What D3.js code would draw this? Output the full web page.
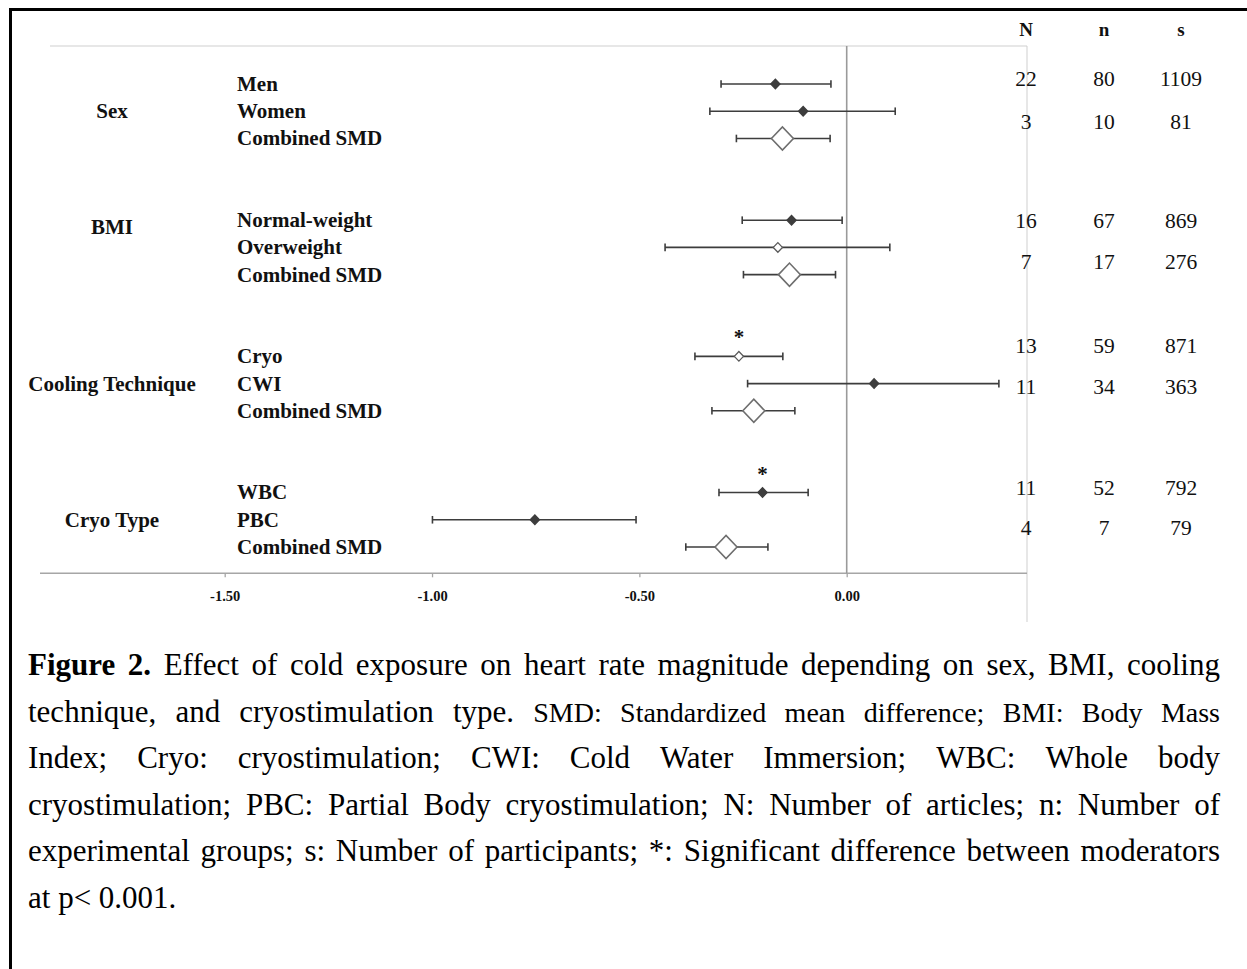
<!DOCTYPE html>
<html><head><meta charset="utf-8">
<script src="https://cdn.jsdelivr.net/npm/d3@7"></script>
<style>body{margin:0;background:#fff;} svg{display:block;}</style>
</head><body><svg id="c" width="1247" height="969"></svg>
<script>
// ---------------- DATA ----------------
const groups = ["Sex", "BMI", "Cooling Technique", "Cryo Type"];
const subgroups = [
  ["Men", "Women", "Combined SMD"],
  ["Normal-weight", "Overweight", "Combined SMD"],
  ["Cryo", "CWI", "Combined SMD"],
  ["WBC", "PBC", "Combined SMD"]
];
const estimates = [[-0.172, -0.105, -0.155], [-0.133, -0.166, -0.138], [-0.260, 0.066, -0.224], [-0.203, -0.752, -0.291]];
const lowerCI   = [[-0.303, -0.330, -0.266], [-0.252, -0.438, -0.249], [-0.366, -0.239, -0.325], [-0.308, -0.999, -0.388]];
const upperCI   = [[-0.038,  0.117, -0.040], [-0.011,  0.104, -0.027], [-0.154,  0.367, -0.125], [-0.093, -0.508, -0.190]];
const markerTypes = [["filled", "filled", "combined"], ["filled", "open", "combined"], ["open", "filled", "combined"], ["filled", "filled", "combined"]];
const significant = [[false, false, false], [false, false, false], [true, false, false], [true, false, false]];
const tableHeaders = ["N", "n", "s"];
const articlesN = [[22, 3], [16, 7], [13, 11], [11, 4]];
const groupsSmallN = [[80, 10], [67, 17], [59, 34], [52, 7]];
const participantsS = [[1109, 81], [869, 276], [871, 363], [792, 79]];
const xTickValues = [-1.5, -1.0, -0.5, 0];
const xTickLabels = ["-1.50", "-1.00", "-0.50", "0.00"];

// ---------------- LAYOUT ----------------
const svg = d3.select("#c");
const W = 1247, H = 969;
const serif = "'Liberation Serif','Times New Roman',serif";
const axisY = 573.3, plotTop = 46, plotRight = 1027;
const x = d3.scaleLinear().domain([-1.5, 0]).range([224.7, 846.7]);
const slot = d3.scaleLinear().domain([0, 17]).range([84, 547]);
const rowY = (g, i) => slot(g * 5 + i);
const groupLabelRow = [1, 0.27, 1, 1];
const tableRowOffset = [[-6, 10], [0, 14], [-11, 3], [-5, 8]];
const tableColX = [1026, 1104, 1181];
const labelSize = 21;

// frame
svg.append("line").attr("x1", 9).attr("x2", W).attr("y1", 9.5).attr("y2", 9.5).attr("stroke", "#000").attr("stroke-width", 3);
svg.append("line").attr("x1", 10.5).attr("x2", 10.5).attr("y1", 8).attr("y2", H).attr("stroke", "#000").attr("stroke-width", 3);

// light frame lines
svg.append("line").attr("x1", 50).attr("x2", plotRight).attr("y1", plotTop).attr("y2", plotTop).attr("stroke", "#cfcfcf").attr("stroke-width", 1);
svg.append("line").attr("x1", plotRight).attr("x2", plotRight).attr("y1", plotTop).attr("y2", 622).attr("stroke", "#cfcfcf").attr("stroke-width", 1);

// axis
svg.append("line").attr("x1", 40).attr("x2", plotRight).attr("y1", axisY).attr("y2", axisY).attr("stroke", "#a6a6a6").attr("stroke-width", 1.6);
const axis = d3.axisBottom(x).tickValues(xTickValues).tickFormat((d, i) => xTickLabels[i]).tickSize(4).tickPadding(13);
const ag = svg.append("g").attr("transform", `translate(0,${axisY})`).call(axis);
ag.select(".domain").remove();
ag.selectAll(".tick line").attr("stroke", "#a6a6a6").attr("stroke-width", 1.3);
ag.selectAll(".tick text").attr("font-family", serif).attr("font-size", 14.5).attr("font-weight", "bold").attr("fill", "#111");

// zero line
svg.append("line").attr("x1", x(0)).attr("x2", x(0)).attr("y1", plotTop).attr("y2", axisY).attr("stroke", "#9a9a9a").attr("stroke-width", 1.6);

// rows
const rows = [];
groups.forEach((g, gi) => subgroups[gi].forEach((s, si) => rows.push({
  gi, si, label: s, est: estimates[gi][si], lo: lowerCI[gi][si], hi: upperCI[gi][si],
  type: markerTypes[gi][si], sig: significant[gi][si], y: rowY(gi, si)
})));

const txt = svg.append("g").attr("font-family", serif).attr("fill", "#111");
groups.forEach((g, gi) => {
  txt.append("text").attr("x", 112).attr("y", slot(gi * 5 + groupLabelRow[gi])).attr("dy", "0.33em")
    .attr("text-anchor", "middle").attr("font-size", labelSize).attr("font-weight", "bold").text(g);
});
txt.selectAll("text.sub").data(rows).join("text").attr("class", "sub")
  .attr("x", 237).attr("y", d => d.y).attr("dy", "0.33em")
  .attr("font-size", labelSize).attr("font-weight", "bold").text(d => d.label);

// CI lines
const ci = svg.append("g").attr("stroke", "#3d3d3d").attr("stroke-width", 1.6);
ci.selectAll("line.ci").data(rows).join("line").attr("class", "ci")
  .attr("x1", d => x(d.lo)).attr("x2", d => x(d.hi)).attr("y1", d => d.y).attr("y2", d => d.y);
ci.selectAll("line.capl").data(rows).join("line").attr("class", "capl")
  .attr("x1", d => x(d.lo)).attr("x2", d => x(d.lo)).attr("y1", d => d.y - 3.8).attr("y2", d => d.y + 3.8);
ci.selectAll("line.caph").data(rows).join("line").attr("class", "caph")
  .attr("x1", d => x(d.hi)).attr("x2", d => x(d.hi)).attr("y1", d => d.y - 3.8).attr("y2", d => d.y + 3.8);

// markers
const diamond = (cx, cy, hw, hh) => `M${cx - hw},${cy}L${cx},${cy - hh}L${cx + hw},${cy}L${cx},${cy + hh}Z`;
svg.append("g").selectAll("path").data(rows).join("path")
  .attr("d", d => d.type === "combined" ? diamond(x(d.est), d.y, 11, 11.6) : diamond(x(d.est), d.y, 4.6, 4.8))
  .attr("fill", d => d.type === "filled" ? "#3d3d3d" : "#fff")
  .attr("stroke", d => d.type === "filled" ? "#3d3d3d" : (d.type === "combined" ? "#6e6e6e" : "#5a5a5a"))
  .attr("stroke-width", d => d.type === "combined" ? 1.6 : 1.3);

// significance stars
txt.selectAll("text.star").data(rows.filter(d => d.sig)).join("text").attr("class", "star")
  .attr("x", d => x(d.est)).attr("y", d => d.y - 12).attr("text-anchor", "middle")
  .attr("font-size", 21).attr("font-weight", "bold").text("*");

// table
tableHeaders.forEach((h, i) => {
  txt.append("text").attr("x", tableColX[i]).attr("y", 36).attr("text-anchor", "middle")
    .attr("font-size", 19).attr("font-weight", "bold").text(h);
});
const tableCols = [articlesN, groupsSmallN, participantsS];
tableCols.forEach((col, c) => {
  col.forEach((pair, gi) => pair.forEach((v, k) => {
    txt.append("text").attr("x", tableColX[c]).attr("y", rowY(gi, k) + tableRowOffset[gi][k]).attr("dy", "0.35em")
      .attr("text-anchor", "middle").attr("font-size", 21.5).text(v);
  }));
});

// caption
const capLeft = 28, capRight = 1220, capSize = 31, capSmall = 28;
const capLines = [
  [{ t: "Figure 2.", b: true }, { t: "Effect of cold exposure on heart rate magnitude depending on sex, BMI, cooling" }],
  [{ t: "technique, and cryostimulation type." }, { t: "SMD: Standardized mean difference; BMI: Body Mass", s: true }],
  [{ t: "Index; Cryo: cryostimulation; CWI: Cold Water Immersion; WBC: Whole body" }],
  [{ t: "cryostimulation; PBC: Partial Body cryostimulation; N: Number of articles; n: Number of" }],
  [{ t: "experimental groups; s: Number of participants; *: Significant difference between moderators" }],
  [{ t: "at p< 0.001." }]
];
const capBase = [675, 721.5, 768, 814.5, 861, 907.5];
const cap = svg.append("g").attr("font-family", serif).attr("fill", "#000");
const measure = svg.append("text").attr("font-family", serif).attr("visibility", "hidden");
function width(str, bold, size) {
  measure.attr("font-weight", bold ? "bold" : "normal").attr("font-size", size).text(str);
  return measure.node().getComputedTextLength();
}
capLines.forEach((segs, li) => {
  const words = [];
  segs.forEach(sg => sg.t.split(" ").forEach(w => words.push({ w, b: !!sg.b, size: sg.s ? capSmall : capSize })));
  words.forEach(o => { o.width = width(o.w, o.b, o.size); o.sp = width("a a", false, o.size) - width("aa", false, o.size); });
  const natural = d3.sum(words, o => o.width) + d3.sum(words.slice(0, -1), o => o.sp);
  const last = li === capLines.length - 1;
  const extra = last ? 0 : (capRight - capLeft - natural) / (words.length - 1);
  let cx = capLeft;
  words.forEach(o => {
    cap.append("text").attr("x", cx).attr("y", capBase[li]).attr("font-size", o.size)
      .attr("font-weight", o.b ? "bold" : "normal").text(o.w);
    cx += o.width + o.sp + extra;
  });
});
measure.remove();
</script></body></html>
